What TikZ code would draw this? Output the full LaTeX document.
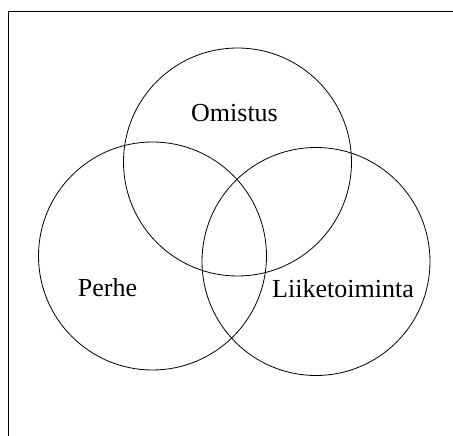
\documentclass[tikz,border=0pt]{standalone}
\usepackage{fontspec}
\setmainfont{Liberation Serif}
\begin{document}
\begin{tikzpicture}[x=1pt,y=1pt,
  setcircle/.style={draw=black, line width=0.8pt, circle, minimum size=228pt, inner sep=0pt},
  setlabel/.style={font=\fontsize{26}{30}\selectfont, anchor=base, inner sep=0pt},
  frameline/.style={draw=black, line width=0.9pt}]
\useasboundingbox (0,0) rectangle (453,436);
\coordinate (fb) at (8,0);
\coordinate (fc) at (8,425);
\coordinate (fr) at (453,425);
\draw[frameline] (fb) -- (fc) -- (fr);
\node[setcircle] (omistus) at (237.5,274) {};
\node[setcircle] (perhe) at (152.5,180) {};
\node[setcircle] (liike) at (316,174.5) {};
\node[setlabel] (lo) at (234.5,314) {Omistus};
\node[setlabel] (lp) at (107.5,139) {Perhe};
\node[setlabel] (ll) at (343,138) {Liiketoiminta};
\end{tikzpicture}
\end{document}
